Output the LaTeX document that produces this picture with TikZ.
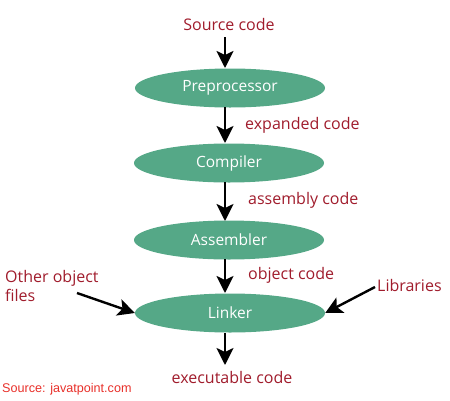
\documentclass[tikz,border=0pt]{standalone}
\usepackage{fontspec}
\setmainfont{Open Sans}
\newfontfamily\arialfont{Liberation Sans}
\usetikzlibrary{arrows.meta,shapes.geometric}
\definecolor{ellgreen}{HTML}{55A887}
\definecolor{lblred}{HTML}{A01C2C}
\definecolor{srcred}{HTML}{E8302A}
\tikzset{
  stage/.style={ellipse, fill=ellgreen, text=white, minimum width=190pt, minimum height=39pt, inner sep=0pt, font=\fontsize{15.5}{17}\selectfont},
  lbl/.style={text=lblred, font=\fontsize{16}{19}\selectfont, inner sep=0pt},
  arr/.style={draw=black, line width=2.4pt, -{Stealth[length=17pt,width=17pt,inset=4pt]}}
}
\begin{document}
\begin{tikzpicture}[x=1pt,y=-1pt]
\useasboundingbox (0,0) rectangle (450,400);
\node[stage] (pre) at (230,88) {Preprocessor};
\node[stage] (comp) at (229,163) {Compiler};
\node[stage] (asm) at (229,240) {Assembler};
\node[stage] (link) at (230,313) {Linker};
\node[lbl] (src) at (229,24) {Source code};
\node[lbl, anchor=west] (exp) at (245,125) {expanded code};
\node[lbl, anchor=west] (asc) at (248,200) {assembly code};
\node[lbl, anchor=west] (obj) at (248,275) {object code};
\node[lbl, anchor=west] (lib) at (377,285) {Libraries};
\node[lbl, align=left, anchor=north west] (oth) at (5,270) {Other object\\files};
\node[lbl] (exe) at (232,377) {executable code};
\node[anchor=west, inner sep=0pt, text=srcred, font=\arialfont\fontsize{12.6}{14}\selectfont] (credit) at (2,389) {Source: javatpoint.com};
\coordinate (oa) at (77,293);
\coordinate (la) at (375,287);
\draw[arr] (225,37) -- (225,68);
\draw[arr] (225,107) -- (225,143);
\draw[arr] (225,182) -- (225,221);
\draw[arr] (225,259) -- (225,293);
\draw[arr] (225,333) -- (225,365);
\draw[arr] (oa) -- (link.west);
\draw[arr] (la) -- (link.east);
\end{tikzpicture}
\end{document}
